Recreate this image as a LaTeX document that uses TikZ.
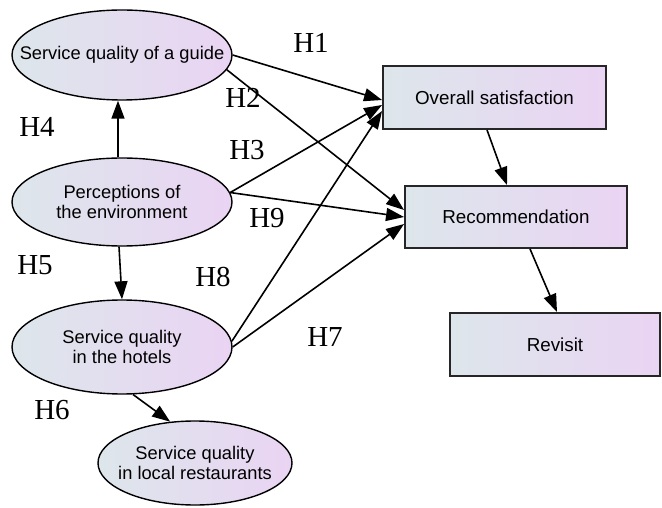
\documentclass[tikz,border=0pt]{standalone}
\usepackage{fontspec}
\setmainfont{Liberation Serif}
\setsansfont{Liberation Sans}
\usetikzlibrary{shapes.geometric,arrows.meta}
\definecolor{shadeL}{HTML}{DDE6EB}
\definecolor{shadeR}{HTML}{EAD4F3}
\tikzset{
  construct/.style={ellipse, draw=black, line width=1.4pt, left color=shadeL, right color=shadeR,
    inner sep=0pt},
  inside/.style={align=center, inner sep=0pt, font=\sffamily\fontsize{18.3}{20}\selectfont},
  outcome/.style={rectangle, draw=black!85, line width=1.9pt, left color=shadeL, right color=shadeR,
    inner sep=0pt, align=center, font=\sffamily\fontsize{18.8}{20}\selectfont},
  path/.style={line width=1.6pt, -{Triangle[length=18pt,width=13pt]}},
  hyp/.style={font=\fontsize{29}{30}\selectfont, inner sep=0pt}
}
\begin{document}
\begin{tikzpicture}[x=1pt,y=-1pt]
\useasboundingbox (0,0) rectangle (662,508);

% latent constructs (fixed outline, text set as a centred label)
\node[construct, minimum width=220pt, minimum height=90pt,
  label={[inside]center:Service quality of a guide}] (guide) at (122,55) {};
\node[construct, minimum width=220pt, minimum height=88pt,
  label={[inside]center:Perceptions of\\the environment}] (perc) at (122,202) {};
\node[construct, minimum width=220pt, minimum height=94pt,
  label={[inside]center:Service quality\\in the hotels}] (hotel) at (122,347) {};
\node[construct, minimum width=194pt, minimum height=84pt,
  label={[inside]center:Service quality\\in local restaurants}] (rest) at (195,463) {};

% outcome variables
\node[outcome, minimum width=223pt, minimum height=63pt] (sat) at (494.5,97.5) {Overall satisfaction};
\node[outcome, minimum width=222pt, minimum height=62pt] (rec) at (516,217) {Recommendation};
\node[outcome, minimum width=210pt, minimum height=63pt] (rev) at (555,344.5) {Revisit};

% hypothesised paths
\draw[path] (guide.east) -- ([yshift=-2.5pt]sat.west);
\draw[path] (guide.-8) -- ([yshift=7pt]rec.west);
\draw[path] ([xshift=-4pt]perc.north) -- ([xshift=-4pt]guide.south);
\draw[path] (perc.5) -- ([yshift=-7.5pt]sat.west);
\draw[path] (perc.5) -- (rec.west);
\draw[path] ([xshift=-3pt]perc.south) -- (hotel.north);
\draw[path] (hotel.3) -- ([yshift=-13.5pt]sat.west);
\draw[path] (hotel.0) -- ([yshift=-7pt]rec.west);
\draw[path] (hotel.-77) -- (rest.121);
\draw[path] ([xshift=-7.5pt]sat.south) -- ([xshift=-9pt]rec.north);
\draw[path] ([xshift=14pt]rec.south) -- ([xshift=2pt]rev.north);

% hypothesis labels
\node[hyp] (h1) at (311,43) {H1};
\node[hyp] (h2) at (243,98) {H2};
\node[hyp] (h3) at (247,150) {H3};
\node[hyp] (h4) at (37,127) {H4};
\node[hyp] (h5) at (35,265) {H5};
\node[hyp] (h6) at (52,410) {H6};
\node[hyp] (h7) at (325,337) {H7};
\node[hyp] (h8) at (213,277) {H8};
\node[hyp] (h9) at (267,218) {H9};
\end{tikzpicture}
\end{document}
